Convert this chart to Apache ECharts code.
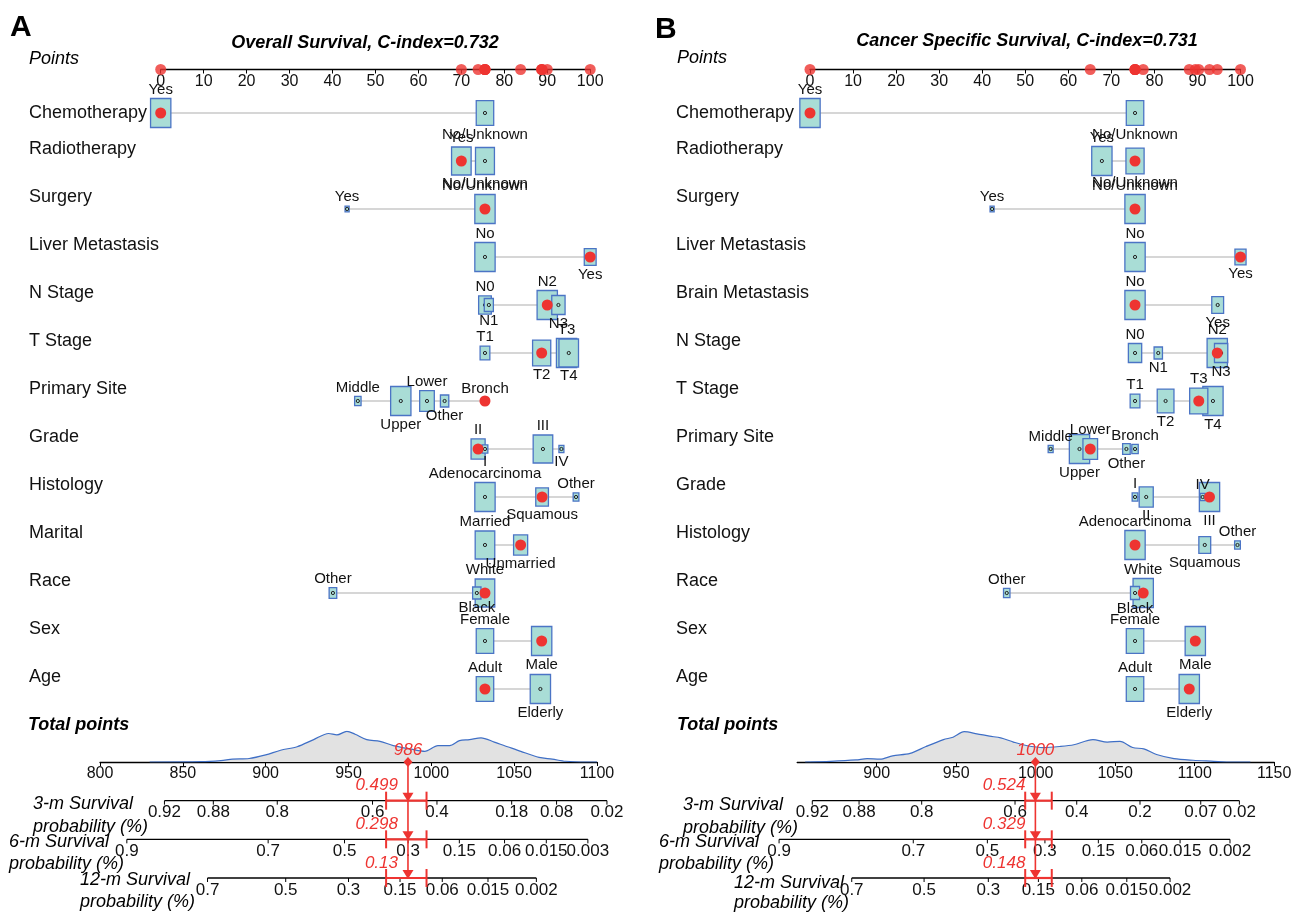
<!DOCTYPE html>
<html><head><meta charset="utf-8">
<script src="https://cdn.jsdelivr.net/npm/echarts@6/dist/echarts.min.js"></script>
<style>html,body{margin:0;padding:0;background:#fff}#c{width:1294px;height:913px}</style>
</head><body><div id="c"></div>
<script>
// ---------------- DATA: panel A (Overall Survival) ----------------
const titleA = 'Overall Survival, C-index=0.732';
const rowsA = ['Chemotherapy','Radiotherapy','Surgery','Liver Metastasis','N Stage','T Stage','Primary Site','Grade','Histology','Marital','Race','Sex','Age'];
const levelsA = [
  ['Yes','No/Unknown'], ['Yes','No/Unknown'], ['Yes','No/Unknown'], ['No','Yes'],
  ['N0','N1','N2','N3'], ['T1','T2','T3','T4'], ['Middle','Upper','Lower','Other','Bronch'],
  ['I','II','III','IV'], ['Adenocarcinoma','Squamous','Other'], ['Married','Unmarried'],
  ['White','Black','Other'], ['Female','Male'], ['Adult','Elderly']];
const pointsA = [
  [0, 75.5], [70.0, 75.5], [43.4, 75.5], [75.5, 100],
  [75.5, 76.4, 90.0, 92.6], [75.5, 88.7, 94.5, 95.0], [45.9, 55.9, 62.0, 66.1, 75.5],
  [75.5, 73.9, 89.0, 93.3], [75.5, 88.8, 96.7], [75.5, 83.8],
  [75.5, 73.6, 40.1], [75.5, 88.7], [75.5, 88.4]];
const freqA = [
  [1.0, 0.74], [0.93, 0.87], [0.04, 1.0], [1.0, 0.34],
  [0.39, 0.2, 1.0, 0.43], [0.23, 0.8, 1.0, 0.93], [0.1, 1.0, 0.52, 0.17, 0.06],
  [0.08, 0.48, 0.93, 0.06], [1.0, 0.39, 0.08], [0.93, 0.48],
  [0.93, 0.17, 0.14], [0.74, 1.0], [0.74, 1.0]];
const chosenA = [0, 0, 1, 1, 2, 1, 4, 1, 1, 1, 0, 1, 0];
const densTpA = [830, 861, 873, 880, 890, 900, 909, 919, 929, 938, 943, 949, 954, 961, 969, 977, 988, 996, 1004, 1011, 1017, 1023, 1030, 1038, 1046, 1054, 1065, 1073, 1081, 1094, 1100];
const densA   = [0, 0.3, 1.4, 2.8, 3.4, 6.9, 11.4, 14.8, 21.7, 27.6, 26.2, 29.7, 26.9, 21.7, 20, 15.9, 12.4, 10.3, 15.9, 15.9, 20.7, 21.7, 23.4, 19.3, 14.8, 10.3, 4.5, 2.8, 0.7, 0, 0];
const survNames = ['3-m', '6-m', '12-m'];
const survLabelsA = [
  ['0.92','0.88','0.8','0.6','0.4','0.18','0.08','0.02'],
  ['0.9','0.7','0.5','0.3','0.15','0.06','0.015','0.003'],
  ['0.7','0.5','0.3','0.15','0.06','0.015','0.002']];
const survTpA = [
  [838.9, 868.4, 907, 964.5, 1003.4, 1048.5, 1075.6, 1106],
  [816.2, 901.5, 947.6, 986, 1016.9, 1044.2, 1069.4, 1094.5],
  [864.9, 912.1, 950, 981.1, 1006.6, 1034.2, 1063.4]];
const predA = ['0.499', '0.298', '0.13'];
const ciA = [972.7, 997.1];

// ---------------- DATA: panel B (Cancer Specific Survival) ----------------
const titleB = 'Cancer Specific Survival, C-index=0.731';
const rowsB = ['Chemotherapy','Radiotherapy','Surgery','Liver Metastasis','Brain Metastasis','N Stage','T Stage','Primary Site','Grade','Histology','Race','Sex','Age'];
const levelsB = [
  ['Yes','No/Unknown'], ['Yes','No/Unknown'], ['Yes','No/Unknown'], ['No','Yes'], ['No','Yes'],
  ['N0','N1','N2','N3'], ['T1','T2','T3','T4'], ['Middle','Upper','Lower','Other','Bronch'],
  ['I','II','III','IV'], ['Adenocarcinoma','Squamous','Other'],
  ['White','Black','Other'], ['Female','Male'], ['Adult','Elderly']];
const pointsB = [
  [0, 75.5], [67.8, 75.5], [42.3, 75.5], [75.5, 100], [75.5, 94.7],
  [75.5, 80.9, 94.6, 95.5], [75.5, 82.6, 90.3, 93.6], [55.9, 62.6, 65.1, 73.5, 75.5],
  [75.5, 78.1, 92.8, 91.2], [75.5, 91.7, 99.3],
  [77.4, 75.5, 45.7], [75.5, 89.5], [75.5, 88.1]];
const freqB = [
  [1.0, 0.74], [1.0, 0.8], [0.04, 1.0], [1.0, 0.3], [1.0, 0.34],
  [0.43, 0.17, 1.0, 0.43], [0.23, 0.68, 0.8, 1.0], [0.06, 1.0, 0.52, 0.14, 0.1],
  [0.08, 0.48, 1.0, 0.06], [1.0, 0.34, 0.08],
  [1.0, 0.2, 0.1], [0.74, 1.0], [0.74, 1.0]];
const chosenB = [0, 1, 1, 1, 0, 2, 2, 2, 2, 0, 0, 1, 1];
const densTpB = [855, 871, 887, 894, 902, 910, 921, 931, 942, 948, 955, 963, 971, 978, 986, 994, 1005, 1015, 1024, 1036, 1045, 1053, 1061, 1068, 1076, 1087, 1099, 1112, 1120, 1135];
const densB   = [0, 0.7, 2, 3.3, 2.7, 6, 8.3, 15, 21.7, 24, 29.3, 27.3, 25, 23.3, 19.3, 16, 14, 15, 16.7, 21.7, 19.3, 20, 14, 12.7, 7.3, 3.3, 1.7, 0.7, 0, 0];
const survLabelsB = [
  ['0.92','0.88','0.8','0.6','0.4','0.2','0.07','0.02'],
  ['0.9','0.7','0.5','0.3','0.15','0.06','0.015','0.002'],
  ['0.7','0.5','0.3','0.15','0.06','0.015','0.002']];
const survTpB = [
  [859.5, 888.9, 928.3, 987, 1025.8, 1065.6, 1103.8, 1128.1],
  [838.6, 923, 969.6, 1005.8, 1039.4, 1066.7, 1090.8, 1122.2],
  [884.3, 929.8, 970.2, 1001.7, 1029, 1057.3, 1084.5]];
const predB = ['0.524', '0.329', '0.148'];
const ciB = [993.4, 1010.1];

// ---------------- LAYOUT / STYLE ----------------
const FONT = '"Liberation Sans", Arial, Helvetica, sans-serif';
const RED = '#ee3431';
const BOXFILL = '#a9ddd6', BOXLINE = '#4b74c5';
const BOX = 29;
const panels = [
  { letter:'A', title:titleA, rows:rowsA, levels:levelsA, points:pointsA, freq:freqA, chosen:chosenA,
    densTp:densTpA, dens:densA, survLabels:survLabelsA, survTp:survTpA, pred:predA, ci:ciA,
    ptsLeft:160.7, ptsWidth:429.5, totLeft:100, totWidth:497, totMin:800, totMax:1100, showMin:true,
    nameX:29, letterXY:[10,28], titleXY:[365,43], pointsXY:[29,59], totalXY:[28,725],
    survTitle:[[33,804,827],[9,842,864],[80,880,902]], labelSide:{'Surgery':[true,true]} },
  { letter:'B', title:titleB, rows:rowsB, levels:levelsB, points:pointsB, freq:freqB, chosen:chosenB,
    densTp:densTpB, dens:densB, survLabels:survLabelsB, survTp:survTpB, pred:predB, ci:ciB,
    ptsLeft:810, ptsWidth:430.5, totLeft:797.2, totWidth:477, totMin:850, totMax:1150, showMin:false,
    nameX:676, letterXY:[655,30], titleXY:[1027,41], pointsXY:[677,58], totalXY:[677,725],
    survTitle:[[683,805,828],[659,842,864],[734,883,903]], labelSide:{'Surgery':[true,true]} }
];
panels.forEach(P => { P.total = P.points.reduce((s, p, r) => s + p[P.chosen[r]], 0); });

function txt(s, x, y, size, align, color, fstyle) {
  const font = (fstyle ? fstyle + ' ' : '') + size + 'px ' + FONT;
  return { type:'text', z2: 20, style:{ text:s, x:x, y:y, font:font, fill:color || '#111',
    textAlign:align, align:align, textVerticalAlign:'middle', verticalAlign:'middle' } };
}
function ln(x1, y1, x2, y2, c, w) {
  return { type:'line', shape:{x1, y1, x2, y2}, style:{ stroke:c, lineWidth:w } };
}

function rowRenderer(P) {
  return function (params, api) {
    const r = params.dataIndex;
    const names = P.levels[r], pts = P.points[r], fq = P.freq[r], sel = P.chosen[r];
    const cy = api.coord([0, r])[1];
    const kids = [];
    kids.push(txt(P.rows[r], P.nameX, r === 0 ? cy : cy - 12, 18, 'left', '#111'));
    const xs = pts.map(p => api.coord([p, r])[0]);
    kids.push(ln(Math.min(...xs), cy, Math.max(...xs), cy, '#c8c8c8', 1.6));
    const hs = fq.map(f => BOX * Math.sqrt(f));
    const order = fq.map((f, i) => i).sort((a, b) => fq[b] - fq[a]);
    order.forEach(i => {
      const h = hs[i], w = h * 0.7;
      kids.push({ type:'rect', shape:{ x:xs[i] - w / 2, y:cy - h / 2, width:w, height:h },
        style:{ fill:BOXFILL, stroke:BOXLINE, lineWidth:1.3 } });
      kids.push({ type:'circle', shape:{ cx:xs[i], cy:cy, r:1.6 }, style:{ fill:BOXFILL, stroke:'#222', lineWidth:1 } });
    });
    kids.push({ type:'circle', shape:{ cx:xs[sel], cy:cy, r:5.5 }, style:{ fill:RED } });
    const sorted = pts.map((p, i) => i).sort((a, b) => pts[a] - pts[b]);
    sorted.forEach((i, k) => {
      let above = k % 2 === 0;
      const ov = P.labelSide[P.rows[r]];
      if (ov) above = ov[i];
      const y = above ? cy - hs[i] / 2 - 9 : cy + hs[i] / 2 + 9;
      kids.push(txt(names[i], xs[i], y, 15, 'center', '#111'));
    });
    return { type:'group', children:kids };
  };
}

function survRenderer(P) {
  return function (params, api) {
    const k = params.dataIndex, row = k + 1;
    const tps = P.survTp[k], labs = P.survLabels[k];
    const y = api.coord([tps[0], row])[1];
    const xs = tps.map(t => api.coord([t, row])[0]);
    const kids = [ln(xs[0], y, xs[xs.length - 1], y, '#000', 1.3)];
    xs.forEach((x, i) => {
      kids.push(ln(x, y, x, y + 4, '#000', 1));
      kids.push(txt(labs[i], x, y + 12, 17, 'center', '#111'));
    });
    return { type:'group', children:kids };
  };
}

function predRenderer(P) {
  return function (params, api) {
    const t = P.total;
    const p0 = api.coord([t, 0]);
    const x = p0[0], y0 = p0[1];
    const y3 = api.coord([t, 3])[1];
    const kids = [ln(x, y0, x, y3, RED, 1.6)];
    for (let k = 1; k <= 3; k++) {
      const y = api.coord([t, k])[1];
      const xl = api.coord([P.ci[0], k])[0], xr = api.coord([P.ci[1], k])[0];
      kids.push(ln(xl, y, xr, y, RED, 2.2));
      kids.push(ln(xl, y - 9, xl, y + 9, RED, 2));
      kids.push(ln(xr, y - 9, xr, y + 9, RED, 2));
      kids.push({ type:'polygon', shape:{ points:[[x - 5.5, y - 8], [x + 5.5, y - 8], [x, y + 1]] }, style:{ fill:RED } });
      kids.push(txt(P.pred[k - 1], x - 10, y - 15, 17, 'right', RED, 'italic'));
    }
    kids.push({ type:'polygon', shape:{ points:[[x, y0 - 5], [x + 4.5, y0], [x, y0 + 5], [x - 4.5, y0]] }, style:{ fill:RED } });
    kids.push(txt(String(Math.round(t)), x, y0 - 12, 17, 'center', RED, 'italic'));
    return { type:'group', children:kids };
  };
}

const grids = [], xAxes = [], yAxes = [], series = [], graphics = [];
const axisBase = {
  type:'value', position:'bottom',
  axisLine:{ show:true, onZero:false, lineStyle:{ color:'#000', width:1.3 } },
  axisTick:{ show:true, length:4, inside:false, lineStyle:{ color:'#000', width:1 } },
  splitLine:{ show:false }
};
const plain = v => String(v);
panels.forEach(P => {
  const g = grids.length;
  grids.push({ left:P.ptsLeft, top:64.5, width:P.ptsWidth, height:5, outerBoundsMode:'none', containLabel:false });
  grids.push({ left:P.ptsLeft, top:113, width:P.ptsWidth, height:576, outerBoundsMode:'none', containLabel:false });
  grids.push({ left:P.totLeft, top:731, width:P.totWidth, height:31, outerBoundsMode:'none', containLabel:false });
  grids.push({ left:P.totLeft, top:762, width:P.totWidth, height:116, outerBoundsMode:'none', containLabel:false });
  // points axis
  xAxes.push(Object.assign({}, axisBase, { gridIndex:g, min:0, max:100, interval:10,
    axisLabel:{ show:true, margin:4, fontSize:16, color:'#111', fontFamily:FONT, hideOverlap:false, formatter:plain } }));
  yAxes.push({ gridIndex:g, type:'value', min:0, max:1, show:false });
  // rows
  xAxes.push({ gridIndex:g + 1, type:'value', min:0, max:100, show:false });
  yAxes.push({ gridIndex:g + 1, type:'value', min:0, max:12, inverse:true, show:false });
  // total points + density
  xAxes.push(Object.assign({}, axisBase, { gridIndex:g + 2, min:P.totMin, max:P.totMax, interval:50,
    axisLabel:{ show:true, margin:4, fontSize:16, color:'#111', fontFamily:FONT, showMinLabel:P.showMin, hideOverlap:false, formatter:plain } }));
  yAxes.push({ gridIndex:g + 2, type:'value', min:0, max:30, show:false });
  // survival axes
  xAxes.push({ gridIndex:g + 3, type:'value', min:P.totMin, max:P.totMax, show:false });
  yAxes.push({ gridIndex:g + 3, type:'value', min:0, max:3, inverse:true, show:false });

  series.push({ type:'scatter', xAxisIndex:g, yAxisIndex:g, silent:true, z:5,
    data:P.points.map((p, r) => [p[P.chosen[r]], 0]), symbol:'circle', symbolSize:11,
    itemStyle:{ color:RED } });
  series.push({ type:'custom', xAxisIndex:g + 1, yAxisIndex:g + 1, silent:true, clip:false,
    data:P.rows.map((n, i) => [0, i]), encode:{ x:0, y:1 }, renderItem:rowRenderer(P) });
  series.push({ type:'line', xAxisIndex:g + 2, yAxisIndex:g + 2, silent:true, smooth:0.3, symbol:'none',
    data:P.densTp.map((t, i) => [t, P.dens[i]]),
    lineStyle:{ color:'#3f6fc6', width:1.2 }, areaStyle:{ color:'#e2e2e2', opacity:1 } });
  series.push({ type:'custom', xAxisIndex:g + 3, yAxisIndex:g + 3, silent:true, clip:false,
    data:P.survTp.map((tp, k) => [tp[0], k + 1]), encode:{ x:0, y:1 }, renderItem:survRenderer(P) });
  series.push({ type:'custom', xAxisIndex:g + 3, yAxisIndex:g + 3, silent:true, clip:false, z:10,
    data:[[P.total, 0]], encode:{ x:0, y:1 }, renderItem:predRenderer(P) });

  const gt = (s, x, y, font, align) => ({ type:'text', x:x, y:y, silent:true,
    style:{ text:s, font:font, fill:'#000', textAlign:align, align:align, textVerticalAlign:'middle', verticalAlign:'middle' } });
  graphics.push(gt(P.letter, P.letterXY[0], P.letterXY[1], 'bold 30px ' + FONT, 'left'));
  graphics.push(gt(P.title, P.titleXY[0], P.titleXY[1], 'italic bold 18px ' + FONT, 'center'));
  graphics.push(gt('Points', P.pointsXY[0], P.pointsXY[1], 'italic 18px ' + FONT, 'left'));
  graphics.push(gt('Total points', P.totalXY[0], P.totalXY[1], 'italic bold 18px ' + FONT, 'left'));
  P.survTitle.forEach((st, k) => {
    graphics.push(gt(survNames[k] + ' Survival', st[0], st[1], 'italic 18px ' + FONT, 'left'));
    graphics.push(gt('probability (%)', st[0], st[2], 'italic 18px ' + FONT, 'left'));
  });
});

const chart = echarts.init(document.getElementById('c'), null, { renderer:'canvas' });
chart.setOption({
  backgroundColor:'#ffffff', animation:false,
  grid:grids, xAxis:xAxes, yAxis:yAxes, series:series, graphic:graphics
});
</script>
</body></html>
